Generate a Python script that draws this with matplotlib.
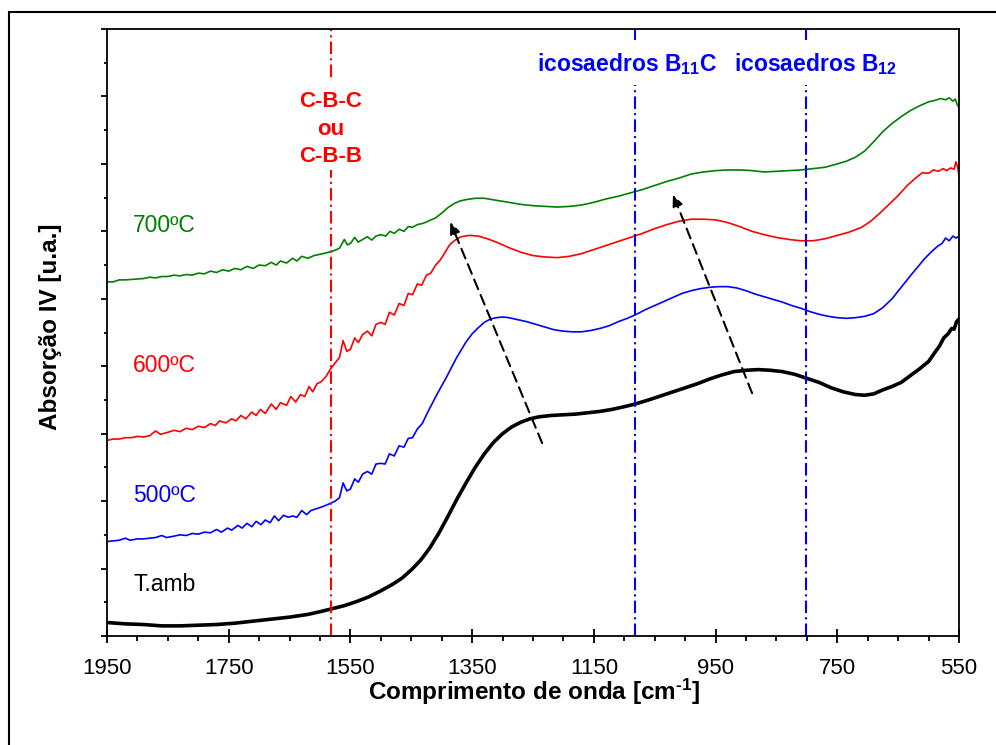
import matplotlib
matplotlib.use('Agg')
import matplotlib.pyplot as plt
from matplotlib.ticker import MultipleLocator, FixedLocator
from matplotlib.patches import Rectangle

plt.rcParams['font.family'] = ['Liberation Sans', 'DejaVu Sans']
plt.rcParams['mathtext.fontset'] = 'custom'
plt.rcParams['mathtext.rm'] = 'Liberation Sans:bold'
plt.rcParams['mathtext.bf'] = 'Liberation Sans:bold'
plt.rcParams['mathtext.default'] = 'bf'

# ---------------- data ----------------
green_wn = [1950, 1940, 1930, 1920, 1905, 1890, 1880, 1870, 1860, 1850, 1840, 1830, 1820, 1810,
            1800, 1790, 1780, 1770, 1760, 1750, 1740, 1730, 1720, 1710, 1700, 1690, 1680, 1672,
            1665, 1655, 1645, 1638, 1630, 1620, 1610, 1600, 1590, 1582, 1575, 1568, 1560, 1555,
            1550, 1543, 1537, 1530, 1522, 1515, 1508, 1500, 1492, 1485, 1478, 1470, 1462, 1455,
            1448, 1440, 1430, 1420, 1410, 1400, 1390, 1380, 1370, 1360, 1345, 1330, 1310, 1290,
            1270, 1250, 1230, 1210, 1190, 1170, 1150, 1130, 1110, 1090, 1070, 1050, 1030, 1010,
            990, 970, 950, 930, 910, 890, 870, 850, 830, 810, 790, 770, 750, 735, 720, 705, 690,
            675, 660, 645, 630, 615, 600, 590, 580, 572, 566, 560, 556, 553, 550]
green_y = [5.25, 5.25, 5.28, 5.28, 5.29, 5.30, 5.32, 5.31, 5.33, 5.33, 5.35, 5.34, 5.36, 5.35,
           5.38, 5.37, 5.41, 5.39, 5.43, 5.41, 5.45, 5.43, 5.48, 5.45, 5.50, 5.49, 5.54, 5.50,
           5.56, 5.53, 5.60, 5.56, 5.63, 5.60, 5.64, 5.66, 5.68, 5.70, 5.72, 5.75, 5.88, 5.80,
           5.82, 5.91, 5.84, 5.88, 5.92, 5.87, 5.93, 5.95, 5.93, 6.00, 5.97, 6.03, 6.00, 6.07,
           6.06, 6.10, 6.12, 6.16, 6.20, 6.27, 6.35, 6.41, 6.45, 6.47, 6.49, 6.49, 6.46, 6.43,
           6.40, 6.38, 6.37, 6.36, 6.37, 6.39, 6.43, 6.48, 6.52, 6.57, 6.62, 6.68, 6.74, 6.79,
           6.85, 6.88, 6.90, 6.91, 6.91, 6.90, 6.88, 6.89, 6.90, 6.91, 6.93, 6.95, 7.00, 7.04,
           7.10, 7.19, 7.33, 7.48, 7.60, 7.70, 7.79, 7.86, 7.92, 7.94, 7.97, 7.95, 7.98, 7.93,
           7.96, 7.88, 7.84]

red_wn = [1950, 1940, 1930, 1920, 1910, 1900, 1890, 1880, 1870, 1862, 1850, 1840, 1830, 1820,
          1810, 1800, 1790, 1780, 1772, 1765, 1755, 1745, 1738, 1730, 1722, 1712, 1705, 1698,
          1690, 1680, 1672, 1665, 1655, 1648, 1640, 1632, 1625, 1618, 1612, 1605, 1598, 1590,
          1582, 1575, 1568, 1562, 1556, 1550, 1543, 1537, 1530, 1522, 1515, 1508, 1500, 1493,
          1486, 1478, 1470, 1462, 1455, 1448, 1440, 1433, 1425, 1418, 1410, 1402, 1395, 1387,
          1378, 1368, 1355, 1340, 1325, 1310, 1290, 1270, 1250, 1230, 1210, 1190, 1170, 1150,
          1130, 1110, 1090, 1070, 1050, 1030, 1010, 990, 970, 950, 930, 910, 890, 870, 850, 830,
          810, 790, 770, 750, 730, 710, 695, 680, 665, 650, 635, 620, 610, 600, 592, 584, 576,
          570, 564, 558, 555, 552, 550]
red_y = [2.90, 2.92, 2.92, 2.94, 2.94, 2.96, 2.95, 2.97, 3.04, 2.99, 3.02, 3.05, 3.03, 3.08,
         3.06, 3.11, 3.09, 3.15, 3.12, 3.19, 3.16, 3.22, 3.19, 3.27, 3.22, 3.32, 3.27, 3.36,
         3.30, 3.44, 3.36, 3.46, 3.42, 3.55, 3.47, 3.58, 3.55, 3.70, 3.62, 3.74, 3.77, 3.85,
         3.97, 4.05, 4.13, 4.38, 4.22, 4.25, 4.42, 4.35, 4.47, 4.52, 4.45, 4.62, 4.65, 4.62,
         4.80, 4.76, 4.93, 4.90, 5.08, 5.06, 5.22, 5.20, 5.35, 5.38, 5.50, 5.58, 5.68, 5.80,
         5.87, 5.92, 5.94, 5.93, 5.89, 5.84, 5.76, 5.69, 5.64, 5.62, 5.61, 5.63, 5.67, 5.73,
         5.79, 5.85, 5.91, 5.97, 6.04, 6.10, 6.15, 6.18, 6.18, 6.17, 6.13, 6.07, 6.00, 5.95,
         5.91, 5.88, 5.86, 5.86, 5.89, 5.94, 5.99, 6.06, 6.15, 6.27, 6.40, 6.53, 6.68, 6.80,
         6.87, 6.86, 6.91, 6.89, 6.93, 6.90, 6.94, 6.92, 7.03, 6.95, 6.80]

blue_wn = [1950, 1940, 1930, 1920, 1912, 1900, 1890, 1880, 1870, 1860, 1852, 1840, 1830, 1820,
           1810, 1800, 1790, 1780, 1770, 1762, 1752, 1745, 1735, 1728, 1720, 1712, 1705, 1697,
           1690, 1682, 1675, 1668, 1660, 1652, 1645, 1638, 1630, 1622, 1615, 1605, 1595, 1582,
           1575, 1568, 1562, 1556, 1550, 1543, 1537, 1530, 1522, 1515, 1508, 1500, 1493, 1486,
           1478, 1470, 1462, 1455, 1448, 1440, 1432, 1424, 1416, 1408, 1400, 1392, 1384, 1376,
           1368, 1360, 1350, 1340, 1330, 1320, 1310, 1300, 1290, 1275, 1260, 1245, 1230, 1215,
           1200, 1185, 1170, 1155, 1140, 1125, 1110, 1095, 1080, 1065, 1050, 1035, 1020, 1005,
           990, 975, 960, 945, 930, 915, 900, 885, 870, 855, 840, 825, 810, 795, 780, 765, 750,
           735, 720, 705, 690, 675, 660, 645, 630, 618, 606, 595, 585, 578, 572, 566, 560, 555,
           550]
blue_y = [1.40, 1.41, 1.42, 1.45, 1.42, 1.44, 1.44, 1.45, 1.46, 1.49, 1.46, 1.48, 1.50, 1.49,
          1.52, 1.51, 1.54, 1.53, 1.58, 1.54, 1.60, 1.57, 1.64, 1.60, 1.67, 1.62, 1.70, 1.65,
          1.72, 1.68, 1.78, 1.71, 1.79, 1.76, 1.78, 1.76, 1.86, 1.80, 1.86, 1.89, 1.92, 1.97,
          2.00, 2.05, 2.27, 2.15, 2.18, 2.33, 2.28, 2.40, 2.44, 2.40, 2.55, 2.56, 2.55, 2.70,
          2.67, 2.82, 2.80, 2.93, 2.94, 3.07, 3.15, 3.30, 3.44, 3.58, 3.71, 3.84, 3.98, 4.12,
          4.24, 4.36, 4.48, 4.57, 4.65, 4.70, 4.72, 4.73, 4.72, 4.69, 4.66, 4.62, 4.58, 4.54,
          4.52, 4.51, 4.51, 4.53, 4.56, 4.60, 4.66, 4.71, 4.77, 4.84, 4.90, 4.96, 5.02, 5.08,
          5.12, 5.15, 5.17, 5.18, 5.18, 5.16, 5.12, 5.07, 5.03, 4.99, 4.95, 4.90, 4.86, 4.81,
          4.77, 4.74, 4.72, 4.71, 4.72, 4.74, 4.78, 4.87, 5.00, 5.17, 5.34, 5.47, 5.60, 5.70,
          5.78, 5.82, 5.90, 5.86, 5.93, 5.90, 5.93]

black_wn = [1950, 1920, 1890, 1860, 1830, 1800, 1770, 1740, 1710, 1680, 1650, 1620, 1600, 1582,
            1560, 1540, 1520, 1500, 1480, 1465, 1450, 1435, 1420, 1405, 1390, 1375, 1360, 1345,
            1330, 1315, 1300, 1285, 1270, 1255, 1240, 1220, 1200, 1180, 1160, 1140, 1120, 1100,
            1082, 1060, 1040, 1020, 1000, 980, 960, 940, 920, 900, 880, 860, 840, 820, 800, 780,
            760, 740, 720, 705, 690, 675, 660, 645, 630, 615, 600, 590, 582, 575, 568, 562, 558,
            554, 550]
black_y = [0.20, 0.18, 0.17, 0.15, 0.15, 0.16, 0.17, 0.19, 0.22, 0.25, 0.28, 0.32, 0.36, 0.40,
           0.45, 0.51, 0.58, 0.67, 0.77, 0.86, 0.98, 1.12, 1.30, 1.52, 1.77, 2.03, 2.27, 2.50,
           2.70, 2.87, 3.00, 3.10, 3.17, 3.22, 3.25, 3.27, 3.28, 3.29, 3.31, 3.33, 3.36, 3.40,
           3.44, 3.50, 3.56, 3.62, 3.68, 3.74, 3.81, 3.87, 3.92, 3.94, 3.95, 3.94, 3.92, 3.88,
           3.82, 3.76, 3.68, 3.62, 3.58, 3.57, 3.59, 3.65, 3.70, 3.76, 3.86, 3.96, 4.07, 4.20,
           4.30, 4.42, 4.48, 4.56, 4.55, 4.66, 4.70]

x_ticks = [1950, 1750, 1550, 1350, 1150, 950, 750, 550]
series_labels = ['700ºC', '600ºC', '500ºC', 'T.amb']
label_wn = [1907, 1907, 1907, 1907]
label_y = [5.99, 3.92, 1.99, 0.66]

# reference band positions and text-gap extents (y)
red_ref_wn = 1582
red_gap = (6.91, 8.29)
blue_ref_wn = [1082, 801]
blue_gap = (8.17, 8.84)

arrow_tails = [(1235, 2.86), (890, 3.60)]
arrow_heads = [(1386, 6.14), (1020, 6.55)]

# ---------------- figure ----------------
fig = plt.figure(figsize=(9.96, 7.45), dpi=100)
fig.patches.append(Rectangle((9 / 996, -0.05), 1.2, 1 - 12 / 745 + 0.05, transform=fig.transFigure,
                             fill=False, lw=1.5, edgecolor='black'))
ax = fig.add_axes([107 / 996, 1 - 636 / 745, 852 / 996, 607 / 745])

green = '#008000'
ax.plot(green_wn, green_y, color=green, lw=1.2)
ax.plot(red_wn, red_y, color='#ff0000', lw=1.2)
ax.plot(blue_wn, blue_y, color='#0000ff', lw=1.2)
ax.plot(black_wn, black_y, color='black', lw=2.6)

ax.set_xlim(1950, 550)
ax.set_ylim(0, 9)

dash = (0, (6, 2, 1, 2))
ax.plot([red_ref_wn, red_ref_wn], [0, red_gap[0]], color='#ff0000', lw=1.5, linestyle=dash)
ax.plot([red_ref_wn, red_ref_wn], [red_gap[1], 9], color='#ff0000', lw=1.5, linestyle=dash)
for w in blue_ref_wn:
    ax.plot([w, w], [0, blue_gap[0]], color='#0000ff', lw=1.5, linestyle=dash)
    ax.plot([w, w], [blue_gap[1], 9], color='#0000ff', lw=1.5, linestyle=dash)

for (tx, ty), (hx, hy) in zip(arrow_tails, arrow_heads):
    ax.annotate('', xy=(hx, hy), xytext=(tx, ty),
                arrowprops=dict(arrowstyle='-|>,head_length=0.7,head_width=0.3',
                                linestyle=(0, (5, 3)), lw=1.5, color='black',
                                shrinkA=0, shrinkB=0))

colors = [green, '#ff0000', '#0000ff', 'black']
for t, w, yv, c in zip(series_labels, label_wn, label_y, colors):
    ax.text(w, yv, t, color=c, fontsize=16.5, ha='left', va='baseline')

red_txt = ['C-B-C', 'ou', 'C-B-B']
red_txt_y = [7.84, 7.43, 7.03]
for t, yv in zip(red_txt, red_txt_y):
    ax.text(red_ref_wn, yv, t, color='#ff0000', fontsize=16, fontweight='bold',
            ha='center', va='baseline')
ax.text(1095, 8.38, r'icosaedros B$_{11}$C', color='#0000ff', fontsize=16.5, fontweight='bold',
        ha='center', va='baseline')
ax.text(786, 8.38, r'icosaedros B$_{12}$', color='#0000ff', fontsize=16.5, fontweight='bold',
        ha='center', va='baseline')

# axes styling
for s in ax.spines.values():
    s.set_linewidth(1.3)
ax.xaxis.set_major_locator(FixedLocator(x_ticks))
ax.xaxis.set_minor_locator(MultipleLocator(50))
ax.set_xticklabels([str(v) for v in x_ticks])
ax.yaxis.set_major_locator(MultipleLocator(1))
ax.yaxis.set_minor_locator(MultipleLocator(0.5))
ax.set_yticklabels([])
ax.tick_params(axis='x', which='major', direction='inout', length=9.5, width=1.3,
               labelsize=16, pad=11)
ax.tick_params(axis='x', which='minor', direction='out', length=3.6, width=1.3)
ax.tick_params(axis='y', which='major', direction='out', length=4.3, width=1.3)
ax.tick_params(axis='y', which='minor', direction='out', length=2.4, width=1.3)

fig.text(534 / 996, 1 - 692 / 745, r'Comprimento de onda [cm$^{\text{-}1}$]', ha='center',
         va='center', fontsize=17.5, fontweight='bold')
fig.text(50 / 996, 1 - 327 / 745, 'Absorção IV [u.a.]', ha='center', va='center',
         rotation=90, fontsize=17.5, fontweight='bold')

fig.savefig('out.png', dpi=100)
